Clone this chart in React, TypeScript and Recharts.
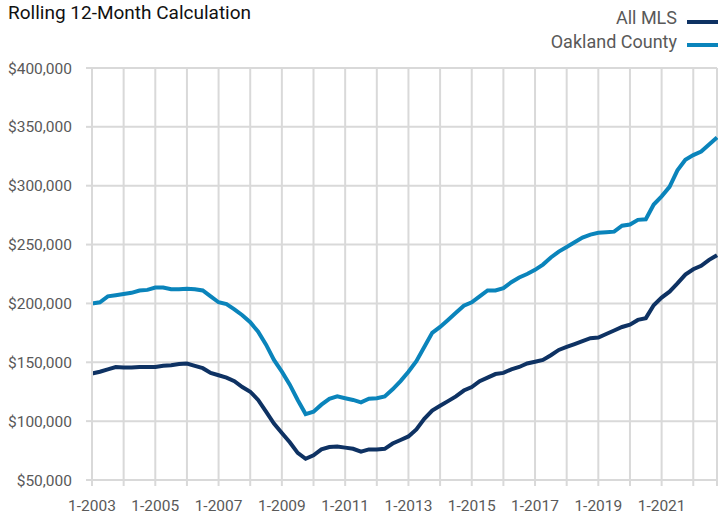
import React from 'react';
import { LineChart, Line, XAxis, YAxis, CartesianGrid } from 'recharts';

const monthOffsets = [
  0, 3, 6, 9, 12, 15, 18, 21, 24, 27, 30, 33, 36, 39, 42, 45, 48, 51, 54, 57,
  60, 63, 66, 69, 72, 75, 78, 81, 84, 87, 90, 93, 96, 99, 102, 105, 108, 111, 114, 117,
  120, 123, 126, 129, 132, 135, 138, 141, 144, 147, 150, 153, 156, 159, 162, 165, 168, 171, 174, 177,
  180, 183, 186, 189, 192, 195, 198, 201, 204, 207, 210, 213, 216, 219, 222, 225, 228, 231, 234, 237,
];

const allMls = [
  140500, 142000, 144000, 146000, 145500, 145500, 146000, 146000, 146000, 147000,
  147500, 148500, 149000, 147000, 145000, 141000, 139000, 137000, 134000, 129000,
  125000, 118000, 108000, 98000, 90000, 82000, 73000, 68000, 71000, 76000,
  78000, 78500, 77500, 76500, 74000, 76000, 76000, 76500, 81000, 84000,
  87000, 93000, 102000, 109000, 113000, 117000, 121000, 126000, 129000, 134000,
  137000, 140000, 141000, 144000, 146000, 149000, 150500, 152000, 156000, 160500,
  163000, 165500, 168000, 170500, 171000, 174000, 177000, 180000, 182000, 186000,
  187500, 198500, 205000, 210000, 217000, 224500, 229000, 232000, 237000, 241000,
];

const oaklandCounty = [
  200000, 201000, 206000, 207000, 208000, 209000, 211000, 211500, 213500, 213500,
  212000, 212000, 212500, 212000, 211000, 206000, 201000, 199500, 195000, 190000,
  184000, 176000, 165000, 152000, 142000, 131000, 118000, 106000, 108000, 114000,
  119000, 121000, 119500, 118000, 116000, 119000, 119500, 121000, 127000, 134000,
  142000, 151000, 163000, 175000, 180000, 186000, 192000, 198000, 201000, 206000,
  211000, 211000, 213000, 218000, 222000, 225000, 228500, 233000, 239000, 244000,
  248000, 252000, 256000, 258500, 260000, 260500, 261000, 266000, 267000, 271000,
  271500, 284000, 291000, 299000, 313000, 322000, 326000, 329000, 335000, 341000,
];

const xTicks = [0, 12, 24, 36, 48, 60, 72, 84, 96, 108, 120, 132, 144, 156, 168, 180, 192, 204, 216, 228, 237];
const xTickLabels: Record<number, string> = {
  0: '1-2003', 24: '1-2005', 48: '1-2007', 72: '1-2009', 96: '1-2011',
  120: '1-2013', 144: '1-2015', 168: '1-2017', 192: '1-2019', 216: '1-2021',
};
const yTicks = [50000, 100000, 150000, 200000, 250000, 300000, 350000, 400000];

const seriesNames = ['All MLS', 'Oakland County'];
const NAVY = '#0e3263';
const BLUE = '#0a84bb';
const GRID = '#d9d9d9';

const data = monthOffsets.map((m, i) => ({ m, allMls: allMls[i], oakland: oaklandCounty[i] }));

export default function App() {
  const font = 'Roboto, "Noto Sans", sans-serif';
  return (
    <div style={{ position: 'absolute', left: 0, top: 0, width: 718, height: 515, background: '#fff', fontFamily: font }}>
      <div style={{ position: 'absolute', left: 8, top: 2.5, fontSize: 19, lineHeight: '19px', color: '#111', whiteSpace: 'nowrap' }}>
        Rolling 12-Month Calculation
      </div>
      <div style={{ position: 'absolute', right: 41, top: 9, fontSize: 18, lineHeight: '18px', color: '#595959', whiteSpace: 'nowrap', textAlign: 'right' }}>
        {seriesNames[0]}
      </div>
      <div style={{ position: 'absolute', left: 687, top: 20, width: 31, height: 3.5, background: NAVY }} />
      <div style={{ position: 'absolute', right: 41, top: 33, fontSize: 18, lineHeight: '18px', color: '#595959', whiteSpace: 'nowrap', textAlign: 'right' }}>
        {seriesNames[1]}
      </div>
      <div style={{ position: 'absolute', left: 687, top: 43, width: 31, height: 3.5, background: BLUE }} />
      <LineChart width={718} height={515} data={data} margin={{ top: 68, right: 1, bottom: 0, left: 0 }}>
        <CartesianGrid stroke={GRID} strokeWidth={2} />
        <XAxis
          dataKey="m"
          type="number"
          domain={[0, 237]}
          ticks={xTicks}
          interval={0}
          height={35}
          tickSize={6}
          tickMargin={14}
          tickLine={{ stroke: GRID, strokeWidth: 2 }}
          axisLine={{ stroke: GRID, strokeWidth: 2 }}
          tickFormatter={(v: number) => xTickLabels[v] ?? ''}
          tick={{ fill: '#595959', fontSize: 15.5, fontFamily: font }}
        />
        <YAxis
          type="number"
          domain={[50000, 400000]}
          ticks={yTicks}
          interval={0}
          width={92}
          tickSize={6}
          tickMargin={14}
          tickLine={{ stroke: GRID, strokeWidth: 2 }}
          axisLine={{ stroke: GRID, strokeWidth: 2 }}
          tickFormatter={(v: number) => '$' + v.toLocaleString('en-US')}
          tick={{ fill: '#595959', fontSize: 15.5, fontFamily: font }}
        />
        <Line type="linear" dataKey="oakland" name={seriesNames[1]} stroke={BLUE} strokeWidth={4} dot={false} isAnimationActive={false} />
        <Line type="linear" dataKey="allMls" name={seriesNames[0]} stroke={NAVY} strokeWidth={4} dot={false} isAnimationActive={false} />
      </LineChart>
    </div>
  );
}
